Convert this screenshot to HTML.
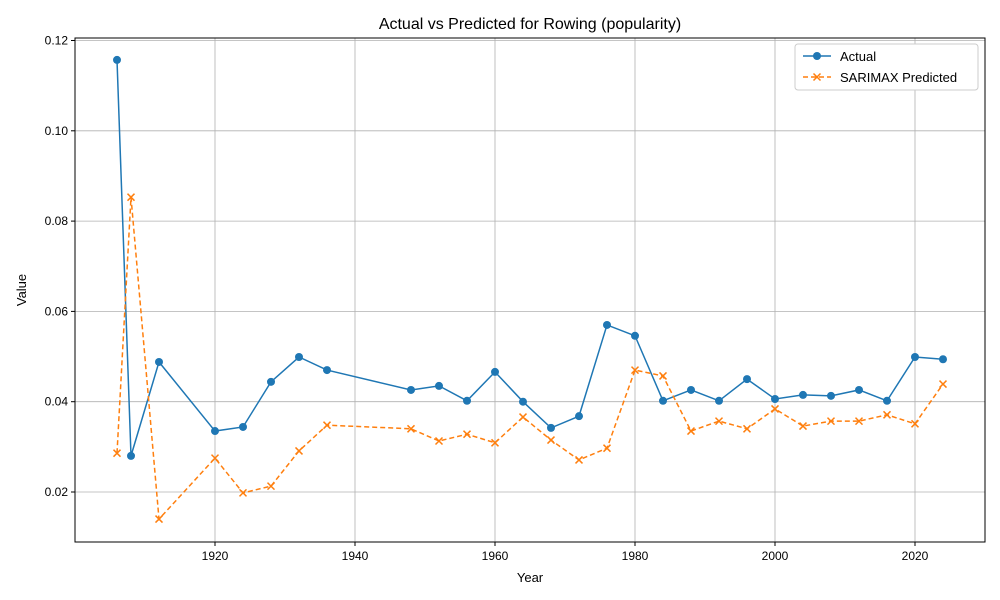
<!DOCTYPE html>
<html><head><meta charset="utf-8"><style>
body{margin:0;background:#fff;}
svg{display:block;font-family:"Liberation Sans","DejaVu Sans",sans-serif;}
</style></head><body>
<svg id="chart" width="1000" height="600" xmlns="http://www.w3.org/2000/svg">
<rect width="1000" height="600" fill="#fff"/>
<g id="grid"></g>
<g id="axes"></g>
<g id="series"></g>
<text x="530" y="29" font-size="16" text-anchor="middle" fill="#000">Actual vs Predicted for Rowing (popularity)</text>
<text x="530" y="582" font-size="13" text-anchor="middle">Year</text>
<text transform="translate(26,290) rotate(-90)" font-size="13" text-anchor="middle">Value</text>
<g>
<rect x="795" y="44" width="183" height="46" fill="#fff" stroke="#ccc" rx="3"/>
<line x1="803" y1="56" x2="831" y2="56" stroke="#1f77b4" stroke-width="1.5"/>
<circle cx="817" cy="56" r="4" fill="#1f77b4"/>
<text x="840" y="61" font-size="13">Actual</text>
<line x1="803" y1="77" x2="831" y2="77" stroke="#ff7f0e" stroke-width="1.5" stroke-dasharray="5,3"/>
<path d="M813.5,73.5l7,7M820.5,73.5l-7,7" stroke="#ff7f0e" stroke-width="1.5"/>
<text x="840" y="82" font-size="13">SARIMAX Predicted</text>
</g>
</svg>
<script>
const years=[1906,1908,1912,1920,1924,1928,1932,1936,1948,1952,1956,1960,1964,1968,1972,1976,1980,1984,1988,1992,1996,2000,2004,2008,2012,2016,2020,2024];
const actual=[0.1157,0.0280,0.0488,0.0335,0.0344,0.0444,0.0499,0.0470,0.0426,0.0435,0.0402,0.0466,0.0400,0.0342,0.0368,0.0570,0.0546,0.0402,0.0426,0.0402,0.0450,0.0406,0.0415,0.0413,0.0426,0.0402,0.0499,0.0494];
const predicted=[0.0286,0.0853,0.0140,0.0275,0.0198,0.0213,0.0291,0.0348,0.0340,0.0313,0.0328,0.0309,0.0366,0.0315,0.0271,0.0297,0.0470,0.0457,0.0335,0.0357,0.0340,0.0384,0.0346,0.0357,0.0357,0.0371,0.0351,0.0439];
const xTicks=[1920,1940,1960,1980,2000,2020];
const yTicks=[0.02,0.04,0.06,0.08,0.10,0.12];
const yLabels=["0.02","0.04","0.06","0.08","0.10","0.12"];

const L=75,R=985,T=38,B=542;
const xs=y=>215+(y-1920)*7;
const ys=v=>492-(v-0.02)*4515;
const NS="http://www.w3.org/2000/svg";
function mk(tag,attrs,parent){const e=document.createElementNS(NS,tag);for(const k in attrs)e.setAttribute(k,attrs[k]);parent.appendChild(e);return e;}
const grid=document.getElementById('grid'),axes=document.getElementById('axes'),ser=document.getElementById('series');
xTicks.forEach(t=>{const x=xs(t);
 const g=mk('line',{x1:x,x2:x,y1:T,y2:B,stroke:'#b0b0b0','stroke-width':0.8},grid);
 
 
 mk('line',{x1:x,x2:x,y1:B,y2:B+4,stroke:'#000'},axes);
 const tx=mk('text',{x:x,y:B+18,'font-size':12,'text-anchor':'middle'},axes);tx.textContent=t;
 
 
});
yTicks.forEach((t,i)=>{const y=ys(t);
 const g=mk('line',{x1:L,x2:R,y1:y,y2:y,stroke:'#b0b0b0','stroke-width':0.8},grid);
 
 
 mk('line',{x1:L-4,x2:L,y1:y,y2:y,stroke:'#000'},axes);
 const tx=mk('text',{x:L-7,y:y+4,'font-size':12,'text-anchor':'end'},axes);tx.textContent=yLabels[i];
 
 
});
const frame=mk('rect',{x:L,y:T,width:R-L,height:B-T,fill:'none',stroke:'#000','stroke-width':1},axes);



const pa=mk('polyline',{points:years.map((y,i)=>xs(y)+','+ys(actual[i])).join(' '),fill:'none',stroke:'#1f77b4','stroke-width':1.5},ser);


const pp=mk('polyline',{points:years.map((y,i)=>xs(y)+','+ys(predicted[i])).join(' '),fill:'none',stroke:'#ff7f0e','stroke-width':1.5,'stroke-dasharray':'5,3'},ser);


years.forEach((y,i)=>{
 const c=mk('circle',{cx:xs(y),cy:ys(actual[i]),r:4,fill:'#1f77b4'},ser);
 
 
 const x=xs(y),yy=ys(predicted[i]);
 const m=mk('path',{d:`M${x-3.5},${yy-3.5}l7,7M${x+3.5},${yy-3.5}l-7,7`,stroke:'#ff7f0e','stroke-width':1.5},ser);
 
 
});
</script>
</body></html>
